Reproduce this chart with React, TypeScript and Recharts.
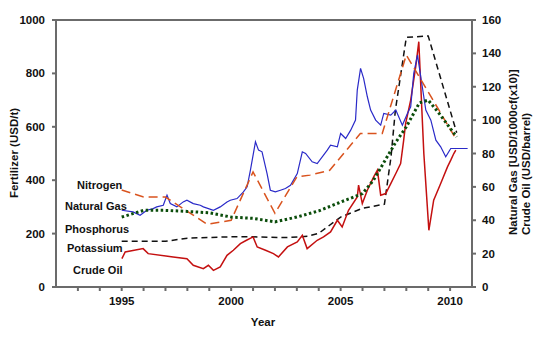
import { LineChart, Line, XAxis, YAxis, ReferenceLine } from "recharts"

const yearTicks = [1993, 1994, 1995, 1996, 1997, 1998, 1999, 2000, 2001, 2002, 2003, 2004, 2005, 2006, 2007, 2008, 2009, 2010]
const fertTicks = [0, 200, 400, 600, 800, 1000]
const rightTicks = [0, 20, 40, 60, 80, 100, 120, 140, 160]

// fertilizer prices, USD/t (left axis)
const nitrogenYears = [1995, 1996, 1997, 1998.9, 2000, 2001, 2002, 2003, 2003.6, 2004.5, 2005.9, 2006.9, 2008, 2010.3]
const nitrogenValues = [363, 337, 337, 235, 250, 431, 276, 412, 419, 437, 575, 575, 869, 550]

const phosphorusYears = [1995, 1996, 1997, 1998, 1999, 2000, 2001, 2002, 2003, 2004, 2005, 2006, 2006.5, 2007, 2007.5, 2008, 2008.6, 2009, 2009.5, 2010.3]
const phosphorusValues = [262, 287, 287, 283, 278, 262, 257, 244, 262, 285, 318, 350, 400, 470, 540, 600, 690, 700, 650, 562]

const potassiumYears = [1995, 1997, 1998, 2000, 2001, 2002.5, 2003.5, 2004, 2005, 2006, 2007, 2007.3, 2007.5, 2008, 2009, 2010.3]
const potassiumValues = [171, 171, 183, 188, 188, 185, 190, 201, 262, 295, 310, 487, 662, 935, 940, 578]

// natural gas USD/1000cf (x10) and crude oil USD/barrel (right axis)
const gasYears = [
  1995.0, 1995.52, 1995.84, 1996.15, 1996.44, 1996.6, 1996.9, 1997.07, 1997.22, 1997.52, 1997.81, 1997.98,
  1998.27, 1998.59, 1998.73, 1999.19, 1999.5, 1999.81, 1999.96, 2000.27, 2000.56, 2000.73, 2000.88, 2001.11,
  2001.25, 2001.41, 2001.64, 2001.79, 2002.02, 2002.25, 2002.48, 2002.71, 2003.02, 2003.25, 2003.4, 2003.7,
  2003.93, 2004.39, 2004.54, 2004.85, 2005.0, 2005.23, 2005.46, 2005.68, 2005.76, 2005.91, 2006.05, 2006.22,
  2006.37, 2006.6, 2006.83, 2006.97, 2007.29, 2007.52, 2007.82, 2008.05, 2008.2, 2008.34, 2008.51, 2008.66,
  2008.89, 2009.12, 2009.35, 2009.57, 2009.8, 2010.03, 2010.8,
]
const gasValues = [
  46, 45, 43, 46, 47, 48, 49, 55, 50, 48, 51, 52,
  50, 49, 48, 46, 48, 51, 52, 53, 57, 60, 70, 87,
  82, 81, 68, 58, 57, 58, 59, 61, 68, 81, 80, 75,
  74, 82, 85, 84, 92, 89, 94, 100, 118, 131, 125, 114,
  106, 100, 97, 104, 103, 106, 97, 104, 108, 128, 139, 126,
  106, 100, 88, 84, 78, 83, 83,
]

const oilYears = [
  1995.01, 1995.16, 1995.98, 1996.21, 1997.35, 1997.98, 1998.27, 1998.73, 1998.96, 1999.19, 1999.5, 1999.81,
  2000.1, 2000.42, 2000.7, 2001.0, 2001.19, 2001.57, 2001.93, 2002.16, 2002.57, 2003.02, 2003.25, 2003.47,
  2003.93, 2004.22, 2004.54, 2004.85, 2005.07, 2005.36, 2005.76, 2005.82, 2005.99, 2006.22, 2006.51, 2006.68,
  2006.83, 2007.06, 2007.29, 2007.52, 2007.74, 2007.88, 2007.97, 2008.2, 2008.43, 2008.57, 2008.8, 2009.03,
  2009.25, 2009.57, 2009.88, 2010.03, 2010.17, 2010.26,
]
const oilValues = [
  17, 21, 23, 20, 18, 17, 13, 11, 13, 10, 12, 19,
  22, 26, 28, 30, 24, 22, 20, 18, 24, 27, 31, 23,
  28, 30, 33, 40, 36, 46, 54, 61, 50, 58, 66, 70,
  55, 56, 62, 68, 74, 88, 98, 112, 132, 147, 80, 34,
  52, 62, 72, 76, 80, 82,
]

const toRows = (years: number[], values: number[]) => years.map((year, i) => ({ year, value: values[i] }))

const axisColor = "#6b6b6b"
const tickStyle = { fontSize: 11.5, fontWeight: 700, fill: "#111", fontFamily: "Liberation Sans, Arial, sans-serif" }
const labelStyle = { fontSize: 11, fontWeight: 700, fill: "#111", fontFamily: "Liberation Sans, Arial, sans-serif" }

export default function App() {
  return (
    <div style={{ position: "absolute", left: 0, top: 0, width: 540, height: 340, background: "#fff" }}>
      <LineChart width={540} height={340} margin={{ top: 20, right: 0, bottom: 0, left: 0 }}>
        <XAxis
          dataKey="year"
          type="number"
          domain={[1992, 2011]}
          ticks={yearTicks}
          allowDuplicatedCategory={false}
          tickFormatter={(v: number) => (v % 5 === 0 ? String(v) : "")}
          height={53}
          tick={tickStyle}
          tickSize={4}
          tickMargin={6}
          stroke={axisColor}
          strokeWidth={2}
        />
        <YAxis
          yAxisId="left"
          domain={[0, 1000]}
          ticks={fertTicks}
          width={56}
          tick={tickStyle}
          tickSize={4}
          tickMargin={7}
          stroke={axisColor}
          strokeWidth={2}
        />
        <YAxis
          yAxisId="right"
          orientation="right"
          domain={[0, 160]}
          ticks={rightTicks}
          width={68}
          tick={{ ...tickStyle, textAnchor: "start" }}
          tickSize={4}
          tickMargin={6}
          stroke={axisColor}
          strokeWidth={2}
        />
        <ReferenceLine yAxisId="left" y={1000} stroke={axisColor} strokeWidth={2} />

        <Line yAxisId="left" data={toRows(potassiumYears, potassiumValues)} dataKey="value" stroke="#111" strokeWidth={1.5} strokeDasharray="6 4" dot={false} isAnimationActive={false} />
        <Line yAxisId="right" data={toRows(oilYears, oilValues)} dataKey="value" stroke="#c41010" strokeWidth={1.5} dot={false} isAnimationActive={false} />
        <Line yAxisId="right" data={toRows(gasYears, gasValues)} dataKey="value" stroke="#2a2ac8" strokeWidth={1.2} dot={false} isAnimationActive={false} />
        <Line yAxisId="left" data={toRows(nitrogenYears, nitrogenValues)} dataKey="value" stroke="#d9531e" strokeWidth={1.5} strokeDasharray="9 5" dot={false} isAnimationActive={false} />
        <Line yAxisId="left" data={toRows(phosphorusYears, phosphorusValues)} dataKey="value" stroke="#0b4d0b" strokeWidth={3} strokeDasharray="2.5 2.5" dot={false} isAnimationActive={false} />
      </LineChart>

      <svg width={540} height={340} style={{ position: "absolute", left: 0, top: 0, pointerEvents: "none" }}>
        <text x={77} y={189} style={labelStyle}>Nitrogen</text>
        <text x={65} y={210} style={labelStyle}>Natural Gas</text>
        <text x={65} y={233} style={labelStyle}>Phosphorus</text>
        <text x={67} y={252} style={labelStyle}>Potassium</text>
        <text x={73} y={274} style={labelStyle}>Crude Oil</text>

        <text x={263} y={326} textAnchor="middle" style={tickStyle}>Year</text>
        <text x={18} y={153} textAnchor="middle" transform="rotate(-90 18 153)" style={tickStyle}>Fertilizer (USD/t)</text>
        <text x={517} y={235} textAnchor="start" transform="rotate(-90 517 235)" style={tickStyle}>Natural Gas [USD/1000cf(x10)]</text>
        <text x={530} y={235} textAnchor="start" transform="rotate(-90 530 235)" style={tickStyle}>Crude Oil (USD/barrel)</text>
      </svg>
    </div>
  )
}
